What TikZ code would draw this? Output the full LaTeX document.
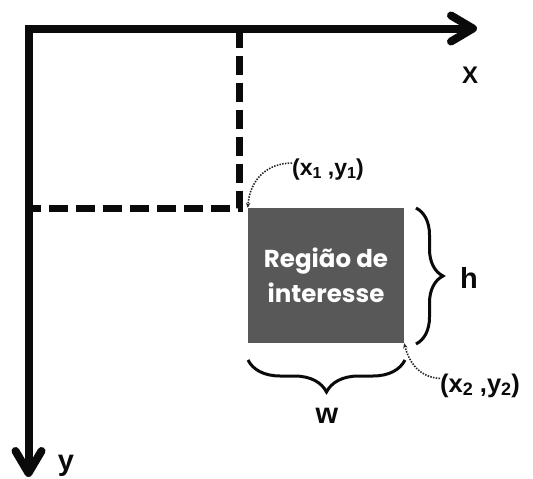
\documentclass[tikz,border=0pt]{standalone}
\usepackage{fontspec}
\setmainfont{Liberation Sans}
\newfontfamily\popfont{Poppins}
\usetikzlibrary{decorations.pathreplacing,arrows.meta}
\definecolor{roifill}{HTML}{585858}
\definecolor{ink}{HTML}{0A0A0A}
\newcommand{\lowidx}[1]{\raisebox{-3pt}{\fontsize{16}{16}\selectfont #1}}
\newcommand{\lowidxb}[1]{\raisebox{-3.5pt}{\fontsize{18}{18}\selectfont #1}}
\begin{document}
\begin{tikzpicture}[x=1pt,y=-1pt,
  axis/.style={line width=8pt,line join=miter,draw=ink},
  chev/.style={line width=8pt,line cap=round,line join=round,draw=ink},
  guide/.style={line width=7pt,dash pattern=on 19pt off 8pt,line join=miter,draw=ink},
  brc/.style={line width=3pt,decorate,draw=ink},
  lab/.style={font=\bfseries\fontsize{23}{23}\selectfont,inner sep=0pt,text=ink},
  big/.style={font=\bfseries\fontsize{29}{29}\selectfont,inner sep=0pt,text=ink},
  pointer/.style={line width=1.6pt,dash pattern=on 1.5pt off 1.3pt,draw=black!85,-{Stealth[length=5pt,width=4.5pt]}}]
\useasboundingbox (0,0) rectangle (533,479);
\coordinate (O) at (28.5,28.5);
\coordinate (xe) at (473,28.5);
\coordinate (ye) at (28.5,473);
\coordinate (c) at (239.5,208);
\coordinate (cx) at (239.5,28.5);
\coordinate (cy) at (28.5,208);
% guides
\draw[guide] (cx) -- (c) -- (cy);
% axes
\draw[axis] (xe) -- (O) -- (ye);
\draw[chev] ([shift={(-22,-13)}]xe) -- (xe) -- ([shift={(-22,13)}]xe);
\draw[chev] ([shift={(-13,-22)}]ye) -- (ye) -- ([shift={(13,-22)}]ye);
% region
\node[fill=roifill,minimum width=156pt,minimum height=135pt,inner sep=0pt,align=center,text=white,font=\popfont\bfseries\fontsize{24.5}{35}\selectfont] (roi) at (326,275.5) {Região de\\interesse};
% braces
\coordinate (rb1) at (416,208);
\coordinate (rb2) at (416,344);
\draw[brc,decoration={brace,amplitude=27pt}] (rb1) -- (rb2);
\coordinate (bb1) at (405,360);
\coordinate (bb2) at (248,360);
\draw[brc,decoration={brace,amplitude=32pt}] (bb1) -- (bb2);
% labels
\node[big,anchor=base] (h) at (469,288) {h};
\node[big,anchor=base] (w) at (327,423) {w};
\node[lab,font=\bfseries\fontsize{24}{24}\selectfont,anchor=base] (X) at (470,83) {X};
\node[big,anchor=base] (y) at (66,470) {y};
\node[lab,anchor=base west] (p1) at (292,175) {(x\lowidx{1} ,y\lowidx{1})};
\node[lab,font=\bfseries\fontsize{25.5}{25.5}\selectfont,anchor=base west] (p2) at (440,392) {(x\lowidxb{2} ,y\lowidxb{2})};
% pointers
\draw[pointer] ([yshift=6pt]p1.west) .. controls +(-25,0) and +(2,-28) .. (roi.north west);
\draw[pointer] ([yshift=7pt]p2.west) .. controls +(-20,-1) and +(5,20) .. (roi.south east);
\end{tikzpicture}
\end{document}
